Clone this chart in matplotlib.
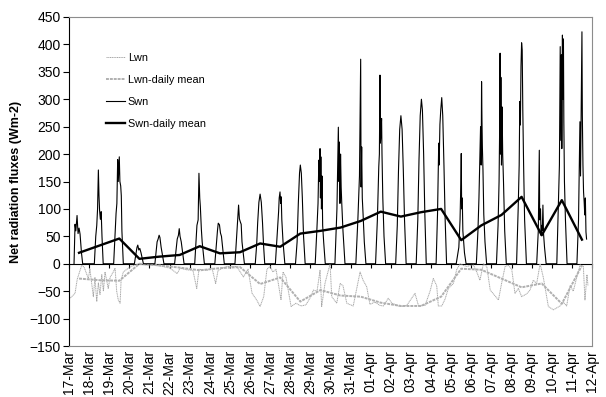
import matplotlib
matplotlib.use('Agg')
import matplotlib.pyplot as plt
import numpy as np

plt.rcParams['font.family'] = ['Liberation Sans', 'DejaVu Sans']

# etiquetas del eje x (un dia por tick)
dias = ['17-Mar', '18-Mar', '19-Mar', '20-Mar', '21-Mar', '22-Mar', '23-Mar',
        '24-Mar', '25-Mar', '26-Mar', '27-Mar', '28-Mar', '29-Mar', '30-Mar',
        '31-Mar', '01-Apr', '02-Apr', '03-Apr', '04-Apr', '05-Apr', '06-Apr',
        '07-Apr', '08-Apr', '09-Apr', '10-Apr', '11-Apr', '12-Apr']

# Swn: puntos leidos por dia (fraccion del dia, W m-2)
swn_dias = [
    [(0.25, 0), (0.30, 72), (0.34, 60), (0.40, 88), (0.45, 55), (0.50, 65), (0.55, 54), (0.62, 20), (0.68, 0)],
    [(0.26, 0), (0.33, 50), (0.38, 70), (0.42, 100), (0.46, 171), (0.49, 125), (0.52, 97), (0.56, 81), (0.60, 95), (0.64, 50), (0.70, 0)],
    [(0.22, 0), (0.30, 60), (0.34, 92), (0.38, 110), (0.42, 190), (0.45, 150), (0.48, 180), (0.50, 195), (0.53, 150), (0.57, 142), (0.60, 124), (0.63, 60), (0.70, 0)],
    [(0.25, 0), (0.38, 30), (0.42, 34), (0.47, 25), (0.52, 28), (0.58, 20), (0.70, 0)],
    [(0.27, 0), (0.38, 40), (0.43, 45), (0.48, 52), (0.52, 48), (0.58, 30), (0.72, 0)],
    [(0.25, 0), (0.38, 45), (0.44, 52), (0.48, 64), (0.52, 50), (0.58, 40), (0.72, 0)],
    [(0.25, 0), (0.36, 70), (0.42, 80), (0.46, 165), (0.50, 120), (0.53, 104), (0.58, 63), (0.62, 40), (0.73, 0)],
    [(0.25, 0), (0.38, 60), (0.42, 74), (0.48, 71), (0.53, 56), (0.58, 50), (0.72, 0)],
    [(0.25, 0), (0.35, 60), (0.43, 107), (0.47, 82), (0.52, 76), (0.56, 72), (0.60, 40), (0.72, 0)],
    [(0.26, 0), (0.33, 35), (0.38, 75), (0.44, 112), (0.50, 127), (0.56, 112), (0.62, 75), (0.67, 35), (0.73, 0)],
    [(0.26, 0), (0.36, 60), (0.42, 95), (0.45, 120), (0.49, 131), (0.52, 110), (0.55, 122), (0.58, 80), (0.64, 40), (0.73, 0)],
    [(0.26, 0), (0.34, 40), (0.40, 110), (0.46, 165), (0.50, 180), (0.55, 165), (0.60, 120), (0.66, 50), (0.74, 0)],
    [(0.24, 0), (0.32, 60), (0.38, 110), (0.42, 189), (0.45, 150), (0.48, 210), (0.50, 120), (0.52, 195), (0.55, 100), (0.58, 160), (0.61, 70), (0.66, 40), (0.74, 0)],
    [(0.22, 0), (0.32, 100), (0.39, 249), (0.42, 150), (0.44, 222), (0.47, 110), (0.50, 200), (0.53, 140), (0.56, 110), (0.62, 60), (0.72, 0)],
    [(0.26, 0), (0.36, 80), (0.44, 160), (0.50, 373), (0.52, 140), (0.55, 213), (0.58, 120), (0.62, 90), (0.68, 40), (0.76, 0)],
    [(0.24, 0), (0.33, 80), (0.40, 177), (0.43, 200), (0.46, 344), (0.48, 220), (0.51, 238), (0.54, 265), (0.56, 200), (0.60, 120), (0.66, 50), (0.74, 0)],
    [(0.24, 0), (0.32, 70), (0.38, 170), (0.44, 245), (0.50, 270), (0.56, 245), (0.62, 170), (0.68, 80), (0.76, 0)],
    [(0.26, 0), (0.34, 80), (0.40, 190), (0.46, 270), (0.52, 300), (0.57, 280), (0.63, 200), (0.69, 90), (0.76, 0)],
    [(0.25, 0), (0.32, 90), (0.38, 220), (0.40, 180), (0.44, 254), (0.48, 280), (0.53, 303), (0.58, 270), (0.64, 180), (0.70, 80), (0.77, 0)],
    [(0.25, 0), (0.38, 30), (0.44, 80), (0.48, 147), (0.50, 201), (0.52, 100), (0.55, 120), (0.58, 60), (0.66, 20), (0.74, 0)],
    [(0.25, 0), (0.33, 60), (0.38, 120), (0.43, 201), (0.46, 250), (0.49, 180), (0.51, 332), (0.53, 262), (0.55, 213), (0.58, 171), (0.62, 90), (0.68, 40), (0.76, 0)],
    [(0.25, 0), (0.33, 70), (0.38, 150), (0.41, 250), (0.43, 384), (0.45, 200), (0.47, 340), (0.50, 180), (0.53, 286), (0.56, 200), (0.60, 150), (0.66, 60), (0.74, 0)],
    [(0.25, 0), (0.33, 100), (0.38, 180), (0.41, 296), (0.44, 253), (0.47, 360), (0.50, 403), (0.53, 390), (0.56, 280), (0.60, 180), (0.65, 80), (0.74, 0)],
    [(0.25, 0), (0.33, 60), (0.38, 207), (0.40, 80), (0.44, 100), (0.47, 52), (0.50, 70), (0.53, 60), (0.56, 107), (0.59, 55), (0.64, 30), (0.72, 0)],
    [(0.25, 0), (0.33, 110), (0.38, 180), (0.42, 396), (0.45, 225), (0.48, 381), (0.50, 210), (0.53, 417), (0.55, 300), (0.58, 410), (0.60, 259), (0.63, 150), (0.68, 80), (0.76, 0)],
    [(0.25, 0), (0.33, 80), (0.40, 259), (0.43, 160), (0.47, 300), (0.50, 423), (0.52, 271), (0.55, 180), (0.58, 131), (0.61, 113), (0.64, 89), (0.67, 120), (0.70, 58), (0.73, 45)],
]

# Lwn: puntos leidos (dias desde 17-Mar, W m-2)
lwn_t = [0.0, 0.05, 0.30, 0.41, 0.63, 0.75, 0.96, 1.04, 1.21, 1.29, 1.38, 1.46, 1.54, 1.63,
         1.71, 1.79, 1.95, 2.04, 2.20, 2.29, 2.37, 2.45, 2.54, 2.59, 2.70, 2.88, 3.08, 3.45,
         3.78, 4.03, 4.52, 5.02, 5.38, 5.52, 5.85, 6.16, 6.35, 6.46, 6.85, 7.11, 7.29, 7.41,
         7.84, 8.34, 8.67, 8.90, 9.10, 9.33, 9.50, 9.68, 9.84, 9.99, 10.14, 10.29, 10.54,
         10.64, 10.79, 11.04, 11.28, 11.53, 11.78, 12.02, 12.15, 12.33, 12.48, 12.56, 12.73,
         12.98, 13.06, 13.31, 13.48, 13.62, 13.81, 14.13, 14.47, 14.62, 14.80, 14.96, 15.21,
         15.46, 15.63, 15.87, 16.06, 16.46, 16.79, 17.20, 17.37, 17.70, 17.95, 18.11, 18.28,
         18.36, 18.53, 18.69, 18.86, 19.11, 19.27, 19.44, 19.60, 19.77, 20.10, 20.27, 20.43,
         20.60, 20.77, 20.94, 21.10, 21.35, 21.51, 21.68, 21.84, 22.01, 22.17, 22.34, 22.50,
         22.75, 22.92, 23.08, 23.25, 23.42, 23.58, 23.83, 24.08, 24.41, 24.57, 24.74, 24.91,
         25.07, 25.24, 25.41, 25.57, 25.65, 25.75, 25.80]
lwn_v = [-62, -63, -54, -28, -3, -6, -27, -10, -60, -25, -69, -35, -56, -20,
         -50, -15, -45, -25, -15, -8, -50, -66, -72, -30, -15, -10, -5, 0,
         -2, -2, -4, -8, -18, -8, -11, -12, -45, -10, -12, -8, -36, -12,
         -5, -5, -24, -10, -54, -66, -78, -60, -10, -5, -15, -10, -66,
         -15, -25, -78, -72, -77, -75, -60, -48, -50, -12, -78, -35,
         0, -60, -72, -36, -40, -72, -77, -15, -30, -42, -74, -70,
         -76, -77, -63, -72, -78, -76, -54, -76, -76, -50, -27, -40,
         -77, -77, -65, -45, -36, -11, 0, -3, -5, -2, -15, -30,
         0, -5, -48, -55, -66, -35, -5, -3, -10, -54, -45, -60,
         -55, -48, -30, -36, 0, -25, -78, -84, -77, -70, -77, -40,
         -50, -25, -2, -5, -66, -20, -40]

# medias diarias (a mediodia de cada dia)
media_t = np.arange(26) + 0.5
swn_media = [20, 33, 46, 9, 13, 16, 32, 19, 21, 37, 31, 55, 60, 66, 78, 95, 86, 94,
             100, 43, 70, 89, 122, 52, 116, 44]
lwn_media = [-27, -30, -31, 0, -3, -7, -12, -8, -6, -37, -25, -69, -48, -58, -60, -71,
             -77, -77, -60, -9, -11, -27, -43, -36, -73, -3]

swn_t = [d + f for d, pts in enumerate(swn_dias) for f, v in pts]
swn_v = [v for pts in swn_dias for f, v in pts]

fig = plt.figure(figsize=(6.06, 3.97), dpi=100)
ax = fig.add_axes([69/606, 1 - 346/397, 523/606, 329/397])

ax.plot(lwn_t, lwn_v, color='#a8a8a8', lw=0.7, ls=(0, (1.2, 0.6)), label='Lwn', zorder=2)
ax.plot(media_t, lwn_media, color='#b0b0b0', lw=1.4, ls=(0, (1.5, 0.5)), label='Lwn-daily mean', zorder=3)
ax.plot(swn_t, swn_v, color='black', lw=0.8, label='Swn', zorder=4)
ax.plot(media_t, swn_media, color='black', lw=1.7, label='Swn-daily mean', zorder=5)

ax.set_xlim(0, 26)
ax.set_ylim(-150, 450)
ax.set_yticks(np.arange(-150, 451, 50))
ax.tick_params(axis='y', direction='out', length=4, labelsize=10, pad=2)
ax.set_xticks(np.arange(27))
ax.set_xticklabels(dias, rotation=90, fontsize=10)
ax.tick_params(axis='x', length=0, pad=3)

for lado in ['top', 'right', 'bottom']:
    ax.spines[lado].set_color('#8c8c8c')
ax.spines['left'].set_color('black')

# eje horizontal en y=0 con sus marcas
eje0 = ax.secondary_xaxis(150/600)
eje0.set_xticks(np.arange(27))
eje0.set_xticklabels([])
eje0.tick_params(direction='out', length=3, color='black')
eje0.spines['bottom'].set_color('black')

ax.set_ylabel('Net radiation fluxes (Wm-2)', fontweight='bold', fontsize=9)
ax.yaxis.set_label_coords(-(69-22)/523, (346-182)/329)

ax.legend(loc='upper left', bbox_to_anchor=((106-69)/523, (346-53)/329), frameon=False,
          fontsize=7.8, handlelength=1.75, handletextpad=0.25, labelspacing=1.1,
          borderpad=0, borderaxespad=0)

fig.savefig('out.png', dpi=100)
